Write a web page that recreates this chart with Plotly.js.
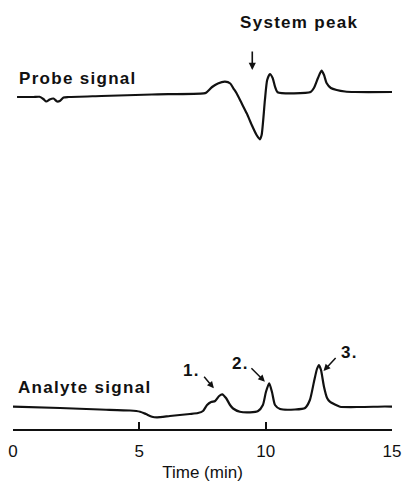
<!DOCTYPE html>
<html>
<head>
<meta charset="utf-8">
<script src="https://cdn.plot.ly/plotly-3.0.1.min.js"></script>
<style>
  html, body { margin: 0; padding: 0; background: #fff; }
  #chart { width: 405px; height: 484px; }
  .annotation-text { letter-spacing: 1.3px; }
</style>
</head>
<body>
<div id="chart"></div>
<script>
// Probe (indirect) detector trace, time in minutes, signal in relative units
const probeTime = [0.16, 0.8, 1.05, 1.2, 1.32, 1.45, 1.6, 1.75, 1.85, 2.0, 2.2, 3.5, 5.5, 7.55,
  7.64, 7.88, 8.11, 8.39, 8.6, 8.72, 8.85, 9.05, 9.25, 9.45, 9.64, 9.77, 9.84, 9.97, 10.06,
  10.17, 10.28, 10.37, 10.47, 11.78, 11.91, 12.07, 12.21, 12.31, 12.41, 12.58, 12.81, 13.14,
  13.53, 15.23];
const probeSignal = [-2, -2, -1.8, -4, -6.5, -4.5, -3.5, -6.5, -6, -2.5, -2, -1, 0.5, 1.7,
  2.3, 8, 11.5, 13.3, 11.5, 6.7, 1.7, -8.3, -18.3, -30, -40, -44.3, -40, -5, 15,
  21, 16.7, 8.3, 2.8, 3, 7, 17, 24.3, 20, 12, 7, 5, 3.5,
  3, 3];

// Analyte (direct) detector trace
const analyteTime = [0, 1.86, 3.44, 4.63, 5.03, 5.26, 5.5, 5.7, 6.21, 7.0, 7.32, 7.52, 7.68,
  7.84, 8.0, 8.16, 8.28, 8.43, 8.59, 8.71, 8.98, 9.38, 9.7, 9.89, 10.01, 10.14, 10.25,
  10.37, 10.57, 11.16, 11.56, 11.75, 11.91, 12.03, 12.11, 12.19, 12.31, 12.43, 12.54,
  12.74, 12.94, 13.73, 14.72, 15.18];
const analyteSignal = [0.3, -1, -2.5, -3.5, -4.7, -7, -9.7, -10.3, -9, -7, -6, -4, 2,
  5, 6, 11, 12.7, 9, 2, -1.5, -4.7, -5.3, -4, 2, 15, 23.7, 15,
  2, -2, -2.5, -1, 7, 25, 38, 42, 37, 20, 9, 5.3,
  2.5, 0.3, 0, 0.5, 0.3];

const timeTicks = [0, 5, 10, 15];
const timeTickLabels = ['0', '5', '10', '15'];

// Peak labels on the analyte trace: label position and arrow tip
const peakNames = ['1.', '2.', '3.'];
const peakLabelTime = [7.08, 9.02, 13.3];
const peakLabelSignal = [37, 44, 55];
const peakTipTime = [7.95, 9.97, 12.29];
const peakTipSignal = [18.7, 25.3, 36];

const ink = '#111';
const textFont = { family: 'Liberation Sans, Arial, Helvetica, sans-serif', size: 17, color: ink };
const boldFont = Object.assign({}, textFont, { weight: 'bold' });

const traces = [
  { x: probeTime, y: probeSignal, xaxis: 'x', yaxis: 'y2', type: 'scatter', mode: 'lines',
    line: { color: ink, width: 2.2, shape: 'spline', smoothing: 0.6 }, hoverinfo: 'skip' },
  { x: analyteTime, y: analyteSignal, xaxis: 'x', yaxis: 'y', type: 'scatter', mode: 'lines',
    line: { color: ink, width: 2.2, shape: 'spline', smoothing: 0.6 }, hoverinfo: 'skip' }
];

const annotations = [
  { text: 'Probe signal', x: 0.16, y: 17, xref: 'x', yref: 'y2', xanchor: 'left', yanchor: 'middle',
    showarrow: false, font: boldFont },
  { text: 'System peak', x: 8.9, y: 73, xref: 'x', yref: 'y2', xanchor: 'left', yanchor: 'middle',
    showarrow: false, font: boldFont },
  { text: '', x: 9.47, y: 25, xref: 'x', yref: 'y2', showarrow: true, ax: 0, ay: -20,
    arrowhead: 2, arrowsize: 0.9, arrowwidth: 1.6, arrowcolor: ink, standoff: 0 },
  { text: 'Analyte signal', x: 0.12, y: 20, xref: 'x', yref: 'y', xanchor: 'left', yanchor: 'middle',
    showarrow: false, font: boldFont }
];
const arrowOffsets = [[-11, -13], [-15, -15], [13.5, -14.5]];
peakNames.forEach((name, i) => {
  annotations.push({ text: name, x: peakLabelTime[i], y: peakLabelSignal[i], xref: 'x', yref: 'y',
    xanchor: 'center', yanchor: 'middle', showarrow: false, font: boldFont });
  annotations.push({ text: '', x: peakTipTime[i], y: peakTipSignal[i], xref: 'x', yref: 'y',
    showarrow: true, ax: arrowOffsets[i][0], ay: arrowOffsets[i][1],
    arrowhead: 2, arrowsize: 0.9, arrowwidth: 1.5, arrowcolor: ink, standoff: 0 });
});

const layout = {
  width: 405, height: 484,
  margin: { l: 13, r: 13, t: 0, b: 55, pad: 0 },
  paper_bgcolor: '#fff', plot_bgcolor: '#fff',
  showlegend: false,
  xaxis: {
    range: [0, 15], tickvals: timeTicks, ticktext: timeTickLabels,
    showline: true, linecolor: ink, linewidth: 2, mirror: false,
    ticks: 'inside', ticklen: 7, tickwidth: 2, tickcolor: ink,
    showgrid: false, zeroline: false,
    tickfont: textFont, ticklabelstandoff: 6,
    title: { text: 'Time (min)', font: textFont, standoff: 6 },
    anchor: 'y', fixedrange: true
  },
  yaxis: { domain: [0, 0.5], range: [-22, 192.5], visible: false, fixedrange: true },
  yaxis2: { domain: [0.5, 1], range: [-119.5, 95], visible: false, fixedrange: true },
  annotations: annotations
};

Plotly.newPlot('chart', traces, layout, { staticPlot: true, displayModeBar: false });
</script>
</body>
</html>
